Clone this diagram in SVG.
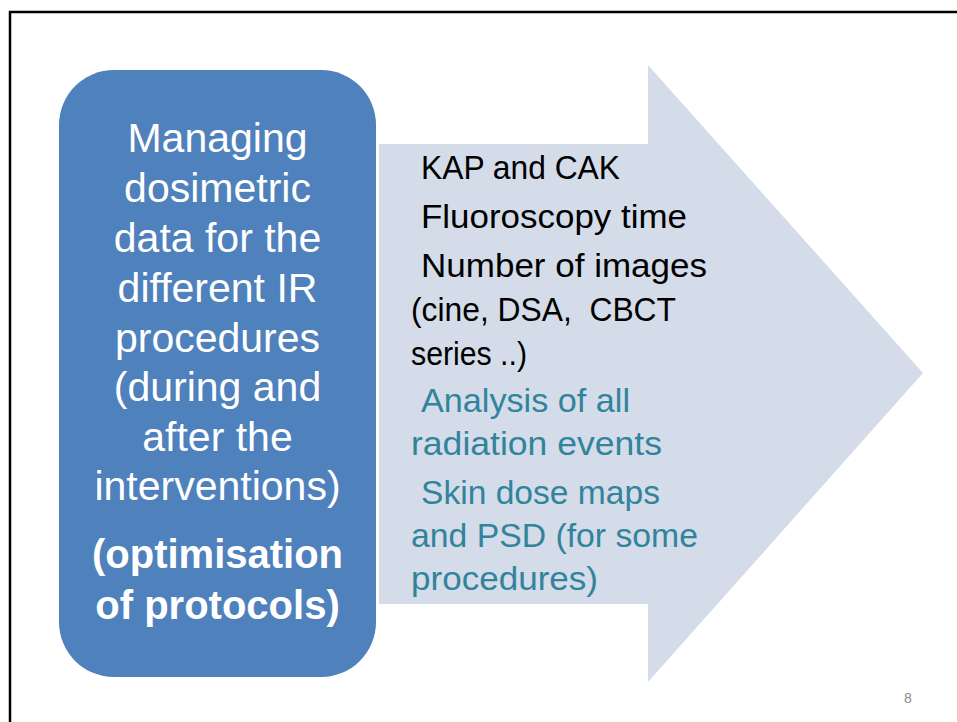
<svg xmlns="http://www.w3.org/2000/svg" width="957" height="722" viewBox="0 0 957 722">
<style>
.box{fill:#4F81BD}
.arrow{fill:#D4DCE9}
.wt{font-family:"Liberation Sans",Arial,sans-serif;font-size:41px;fill:#FFFFFF;text-anchor:middle}
.wb{font-weight:bold;font-size:40px}
.at{font-family:"Liberation Sans",Arial,sans-serif;font-size:33px;fill:#000000}
.tl{fill:#31849B}
.pg{font-family:"Liberation Sans",Arial,sans-serif;font-size:14px;fill:#8C8C8C}
</style>
<rect x="0" y="0" width="957" height="722" fill="#FFFFFF"/>
<path d="M10,722 V12 H957" fill="none" stroke="#000000" stroke-width="2.5"/>
<g id="arrow">
<polygon class="arrow" points="379,144 648,144 648,65 923,373 648,682 648,604 379,604"/>
<text class="at" x="421" y="179" textLength="199" lengthAdjust="spacingAndGlyphs">KAP and CAK</text>
<text class="at" x="421" y="228" textLength="266" lengthAdjust="spacingAndGlyphs">Fluoroscopy time</text>
<text class="at" x="421" y="277" textLength="286" lengthAdjust="spacingAndGlyphs">Number of images</text>
<text class="at" x="411" y="321" xml:space="preserve" textLength="265" lengthAdjust="spacingAndGlyphs">(cine, DSA,  CBCT</text>
<text class="at" x="411" y="365" textLength="116" lengthAdjust="spacingAndGlyphs">series ..)</text>
<text class="at tl" x="421" y="412" textLength="209" lengthAdjust="spacingAndGlyphs">Analysis of all</text>
<text class="at tl" x="411" y="455" textLength="251" lengthAdjust="spacingAndGlyphs">radiation events</text>
<text class="at tl" x="421" y="504" textLength="239" lengthAdjust="spacingAndGlyphs">Skin dose maps</text>
<text class="at tl" x="411" y="547" textLength="287" lengthAdjust="spacingAndGlyphs">and PSD (for some</text>
<text class="at tl" x="411" y="590" textLength="187" lengthAdjust="spacingAndGlyphs">procedures)</text>
</g>
<g id="box">
<rect class="box" x="59" y="70" width="317" height="607" rx="55" ry="55"/>
<text class="wt" x="217.5" y="152">Managing</text>
<text class="wt" x="217.5" y="202">dosimetric</text>
<text class="wt" x="217.5" y="252">data for the</text>
<text class="wt" x="217.5" y="302">different IR</text>
<text class="wt" x="217.5" y="352">procedures</text>
<text class="wt" x="217.5" y="401">(during and</text>
<text class="wt" x="217.5" y="451">after the</text>
<text class="wt" x="217.5" y="500">interventions)</text>
<text class="wt wb" x="217.5" y="568">(optimisation</text>
<text class="wt wb" x="217.5" y="619">of protocols)</text>
</g>
<g id="connectors"></g>
<text class="pg" x="904" y="703">8</text>
</svg>
